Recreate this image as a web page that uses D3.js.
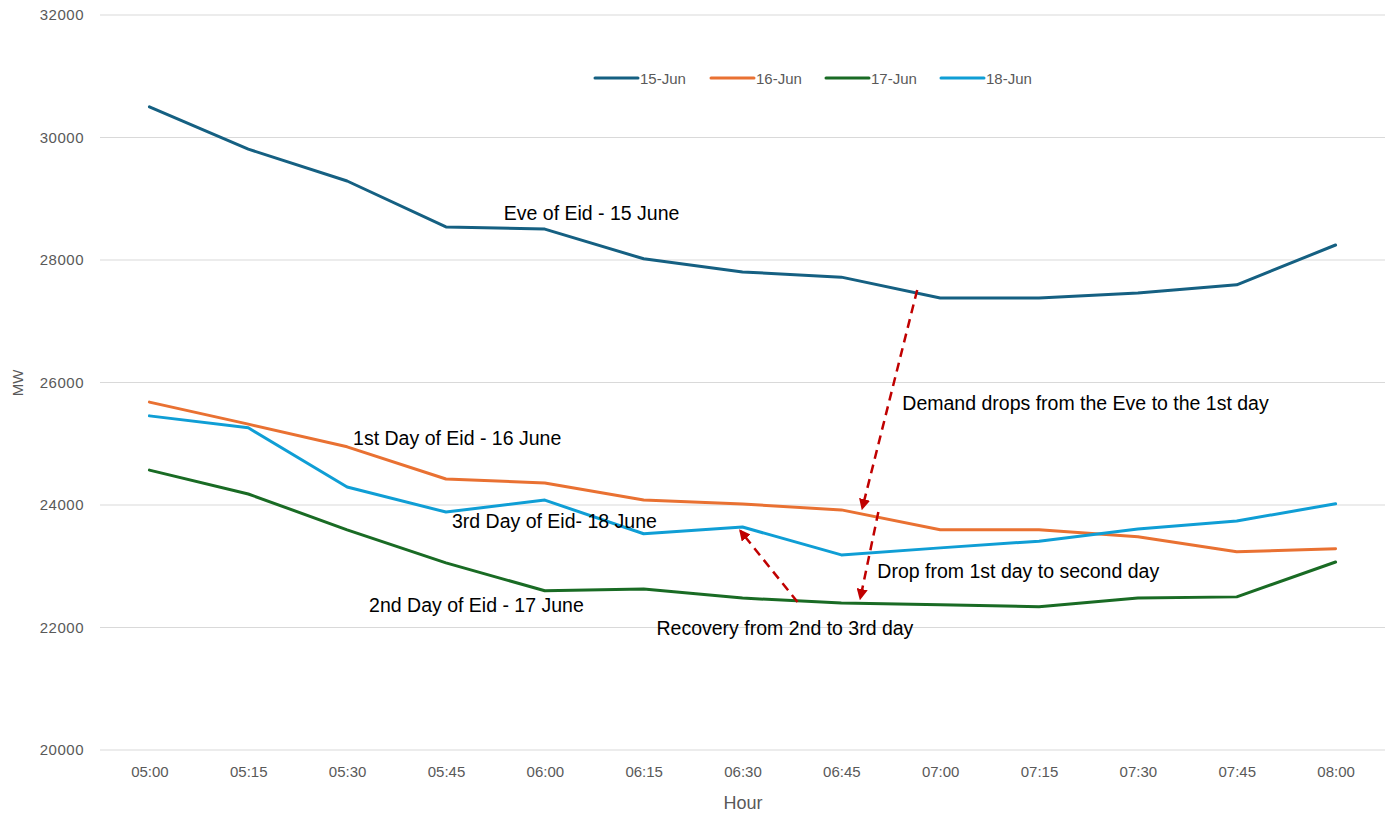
<!DOCTYPE html>
<html><head><meta charset="utf-8">
<script src="https://cdn.jsdelivr.net/npm/d3@7"></script>
<style>body{margin:0;background:#fff}svg{display:block}</style>
</head><body>
<svg id="c" width="1389" height="813"></svg>
<script>
const hours = ["05:00","05:15","05:30","05:45","06:00","06:15","06:30","06:45","07:00","07:15","07:30","07:45","08:00"];
const seriesNames = ["15-Jun","16-Jun","17-Jun","18-Jun"];
const jun15 = [30500,29810,29290,28540,28505,28020,27805,27720,27380,27380,27460,27595,28245];
const jun16 = [25680,25320,24950,24425,24360,24080,24015,23920,23595,23595,23480,23235,23285];
const jun17 = [24570,24180,23595,23055,22600,22630,22480,22400,22370,22340,22480,22500,23070];
const jun18 = [25455,25260,24295,23885,24080,23530,23640,23185,23300,23410,23610,23740,24020];
const yTicks = [20000,22000,24000,26000,28000,30000,32000];
const colors = ["#156082","#E97132","#196B24","#0F9ED5"];
const labels = [
  {text:"Eve of Eid - 15 June", hour:"06:00", value:28650, dx:-41},
  {text:"1st Day of Eid - 16 June", hour:"05:30", value:24975, dx:6},
  {text:"3rd Day of Eid- 18 June", hour:"05:45", value:23620, dx:6},
  {text:"2nd Day of Eid - 17 June", hour:"05:30", value:22260, dx:22},
  {text:"Demand drops from the Eve to the 1st day", hour:"06:45", value:25545, dx:61},
  {text:"Drop from 1st day to second day", hour:"06:45", value:22815, dx:36},
  {text:"Recovery from 2nd to 3rd day", hour:"06:30", value:21885, dx:-86}
];
const arrows = [
  {from:["07:00",27510], to:["06:45",23951], fdx:-23, tdx:21},
  {from:["06:45",23886], to:["06:45",22482], fdx:37, tdx:19},
  {from:["06:30",22416], to:["06:30",23576], fdx:55, tdx:-2}
];

const svg = d3.select("#c");
const x = d3.scalePoint().domain(hours).range([100,1385]).padding(0.5);
const y = d3.scaleLinear().domain([20000,32000]).range([750,15]);
const FONT = "Liberation Sans, Arial";

// gridlines
svg.append("g").selectAll("line").data(yTicks).join("line")
  .attr("x1",100).attr("x2",1385).attr("y1",d=>y(d)).attr("y2",d=>y(d))
  .attr("stroke","#d9d9d9").attr("stroke-width",1);

// y axis
const yAxis = svg.append("g").attr("transform","translate(84,0)")
  .call(d3.axisLeft(y).tickValues(yTicks).tickSize(0).tickPadding(0).tickFormat(d3.format("d")));
yAxis.select(".domain").remove();
yAxis.selectAll("text").attr("fill","#595959").style("font-family",FONT).style("font-size","15px").attr("letter-spacing","0.5");

// x axis
const xAxis = svg.append("g").attr("transform","translate(0,764)")
  .call(d3.axisBottom(x).tickSize(0).tickPadding(0));
xAxis.select(".domain").remove();
xAxis.selectAll("text").attr("fill","#595959").attr("dy","0.85em").style("font-family",FONT).style("font-size","15px");

svg.append("text").attr("x",743).attr("y",809).attr("text-anchor","middle")
  .attr("fill","#595959").style("font-family",FONT).style("font-size","18px").text("Hour");
svg.append("text").attr("transform","translate(23,383) rotate(-90)").attr("text-anchor","middle")
  .attr("fill","#595959").style("font-family",FONT).style("font-size","15px").text("MW");

// lines
const data = [jun15,jun16,jun17,jun18];
const line = d3.line().x((d,i)=>x(hours[i])).y(d=>y(d));
svg.append("g").selectAll("path").data(data).join("path")
  .attr("d",line).attr("fill","none").attr("stroke",(d,i)=>colors[i])
  .attr("stroke-width",3).attr("stroke-linejoin","round").attr("stroke-linecap","round");

// legend
const legX = [595,711,826,941];
const leg = svg.append("g").selectAll("g").data(seriesNames).join("g")
  .attr("transform",(d,i)=>`translate(${legX[i]},78)`);
leg.append("line").attr("x1",0).attr("x2",43).attr("stroke",(d,i)=>colors[i]).attr("stroke-width",3).attr("stroke-linecap","round");
leg.append("text").attr("x",45).attr("y",5.5).attr("fill","#595959")
  .style("font-family",FONT).style("font-size","15px").text(d=>d);

// arrow markers
const defs = svg.append("defs");
defs.append("marker").attr("id","ah").attr("viewBox","0 0 10 10").attr("refX",8).attr("refY",5)
  .attr("markerWidth",4.5).attr("markerHeight",4.5).attr("orient","auto-start-reverse")
  .append("path").attr("d","M0,0 L10,5 L0,10 z").attr("fill","#C00000");

svg.append("g").selectAll("line").data(arrows).join("line")
  .attr("x1",d=>x(d.from[0])+d.fdx).attr("y1",d=>y(d.from[1]))
  .attr("x2",d=>x(d.to[0])+d.tdx).attr("y2",d=>y(d.to[1]))
  .attr("stroke","#C00000").attr("stroke-width",2.5).attr("stroke-dasharray","9,6")
  .attr("marker-end","url(#ah)");

// annotation labels
svg.append("g").selectAll("text").data(labels).join("text")
  .attr("x",d=>x(d.hour)+d.dx).attr("y",d=>y(d.value))
  .attr("fill","#000").style("font-family",FONT).style("font-size","19.5px")
  .text(d=>d.text);
</script>
</body></html>
